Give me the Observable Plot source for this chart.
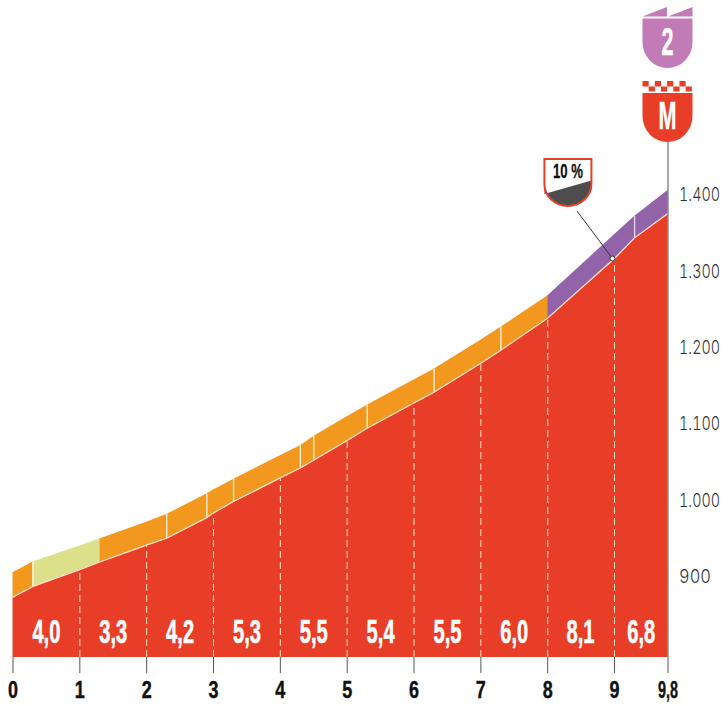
<!DOCTYPE html>
<html><head><meta charset="utf-8">
<style>html,body{margin:0;padding:0;background:#fff}svg{display:block}</style>
<script src="https://cdn.jsdelivr.net/npm/d3@7"></script>
<script src="https://cdn.jsdelivr.net/npm/@observablehq/plot@0.6"></script>
</head><body><div id="c"></div>
<script>
const km      = [0,   .3,  1,   1.3, 2,   2.3, 2.9, 3,   3.3, 4,    4.3,  4.5,  5,    5.3,  6,    6.3,  7,    7.3,  8,    9,    9.3,  9.8];
const ground  = [874, 888, 910, 920, 942, 951, 978, 984, 999, 1030, 1043, 1053, 1079, 1095, 1128, 1142, 1180, 1197, 1239, 1317, 1344, 1376];
const topEdge = [906, 920, 941, 950, 972, 982, 1009,1014,1028,1059, 1072, 1084, 1110, 1125, 1158, 1172, 1210, 1227, 1268, 1348, 1372, 1406];
const segStart = [0, .3, 1.3, 8];
const segEnd   = [.3, 1.3, 8, 9.8];
const segColor = ["#f3981f", "#dde08b", "#f3981f", "#9263a8"];
const dividers = [.3, 2.3, 2.9, 3.3, 4.3, 4.5, 5.3, 6.3, 7.3, 9.3];
const dashKm   = [1,2,3,4,5,6,7,8,9];
const gradeKm    = [.5,1.5,2.5,3.5,4.5,5.5,6.5,7.5,8.49,9.4];
const gradeLabel = ["4,0","3,3","4,2","5,3","5,5","5,4","5,5","6,0","8,1","6,8"];
const xTicks  = [0,1,2,3,4,5,6,7,8,9,9.8];
const xLabels = ["0","1","2","3","4","5","6","7","8","9","9,8"];
const yTicks  = [900,1000,1100,1200,1300,1400];
const yLabels = ["900","1.000","1.100","1.200","1.300","1.400"];
const baseElev = 795, gradeLabelElev = 828;
const RED = "#e83d26", CREAM = "#fde6c9", DARK = "#555";
const NARROW = "'Liberation Sans Narrow','Liberation Sans',sans-serif";

const rows = km.map((k,i)=>({k,g:ground[i],t:topEdge[i]}));
const at = k => rows.find(r=>r.k===k);
const bands = segStart.flatMap((s,i)=>rows.filter(r=>r.k>=s&&r.k<=segEnd[i]).map(r=>({...r,c:segColor[i],s:i})));

function shield(g,w,top,ys,bot,attrs){
  const p=g.append("path").attr("d",`M${-w},${top}H${w}V${ys}A${w},${bot-ys} 0 0 1 ${-w},${ys}Z`);
  for(const a in attrs)p.attr(a,attrs[a]);
  return p;
}
function label(g,txt,y,size,len,fill,sw){
  g.append("text").text(txt).attr("y",y).attr("text-anchor","middle").attr("font-family",NARROW)
   .attr("font-weight",700).attr("font-size",size).attr("fill",fill).attr("stroke",fill).attr("stroke-width",sw)
   .attr("textLength",len).attr("lengthAdjust","spacingAndGlyphs");
}
function finishBadges(i,scales){
  const root=d3.create("svg:g");
  const cx=scales.x(9.8);
  const a=root.append("g").attr("transform",`translate(${cx},0)`);
  const PUR="#c27bb6";
  a.append("path").attr("fill",PUR).attr("d","M-25,16.5L-0.5,7V16.5ZM0.5,16.5L25,7V16.5Z");
  shield(a,25,18.5,42,68,{fill:PUR});
  label(a,"2",54.5,38,12,"#fff",.5);
  const b=root.append("g").attr("transform",`translate(${cx},0)`);
  for(let n=0;n<4;n++){
    b.append("rect").attr("x",-25+n*12.3).attr("y",81).attr("width",6.2).attr("height",5.5).attr("fill",RED);
    b.append("rect").attr("x",-18.8+n*12.3).attr("y",86.5).attr("width",6.2).attr("height",5).attr("fill",RED);
  }
  shield(b,25,93,116,142,{fill:RED});
  label(b,"M",128.5,38,18,"#fff",.5);
  return root.node();
}
function gradeBadge(i,scales){
  const g=d3.create("svg:g").attr("transform",`translate(${scales.x(8.31)},0)`);
  shield(g,23.5,159,184,206,{fill:"#fff",stroke:"none"});
  g.append("path").attr("fill","#4d4d4d").attr("d","M-23.5,194L23.5,180.5V184A23.5,22 0 0 1 -23.5,184Z");
  shield(g,23.5,159,184,206,{fill:"none",stroke:RED,"stroke-width":2});
  label(g,"10 %",177.5,20,30,"#111",.3);
  return g.node();
}

const plot = Plot.plot({
  width:728, height:705,
  marginLeft:12.5, marginRight:60.5, marginTop:0, marginBottom:48,
  style:{background:"#fff",overflow:"visible"},
  x:{domain:[0,9.8]},
  y:{domain:[baseElev,1406],range:[657,190]},
  marks:[
    Plot.areaY(rows,{x:"k",y1:baseElev,y2:"g",fill:RED}),
    Plot.areaY(bands,{x:"k",y1:"g",y2:"t",z:"s",fill:"c"}),
    Plot.ruleX(dividers,{x:d=>d,y1:d=>at(d).g,y2:d=>at(d).t,stroke:d=>d===9.3?"#e3d3ea":"#fff3dc",strokeWidth:1.3}),
    Plot.ruleX(dashKm,{x:d=>d,y1:baseElev,y2:d=>at(d).g-2,stroke:CREAM,strokeWidth:1,strokeDasharray:"7 4"}),
    Plot.line(rows,{x:"k",y:"g",stroke:CREAM,strokeWidth:1.2}),
    Plot.ruleX([9.8],{y1:baseElev,y2:1469,stroke:DARK,strokeWidth:1}),
    Plot.text(gradeKm,{x:d=>d,y:gradeLabelElev,text:(d,i)=>gradeLabel[i],fill:"#fff",stroke:"#fff",strokeWidth:.6,fontSize:34,fontWeight:700,fontFamily:NARROW,className:"grade"}),
    Plot.axisX({ticks:xTicks,tickSize:16,tickPadding:8,tickFormat:d=>xLabels[xTicks.indexOf(d)],label:null,stroke:DARK,fill:"#111",fontFamily:NARROW,className:"xaxis"}),
    Plot.axisY({anchor:"right",ticks:yTicks,tickSize:0,tickPadding:11,tickFormat:d=>yLabels[yTicks.indexOf(d)],label:null,fill:"#333",fontFamily:"Inter,Lato,sans-serif",className:"yaxis"}),
    Plot.link([0],{x1:8.44,y1:1379,x2:8.97,y2:1317,stroke:"#333",strokeWidth:1}),
    Plot.dot([0],{x:8.97,y:1317,r:2.5,fill:"#fff",stroke:"#333",strokeWidth:1}),
    gradeBadge,
    finishBadges
  ]
});
document.getElementById("c").append(plot);
const squeeze=(sel,len)=>plot.querySelectorAll(sel).forEach(t=>{t.setAttribute("textLength",len(t.textContent));t.setAttribute("lengthAdjust","spacingAndGlyphs");});
squeeze(".grade text",()=>28);
squeeze(".xaxis text",s=>s.length>1?20:10);
squeeze(".yaxis text",s=>s.length>3?41:32);
plot.querySelectorAll(".xaxis text").forEach(t=>{t.style.fontSize="23px";t.style.fontWeight=700;t.style.stroke="#111";t.style.strokeWidth=".4px";});
plot.querySelectorAll(".yaxis text").forEach(t=>{t.style.fontSize="19px";t.style.fontWeight=300;});
</script></body></html>
